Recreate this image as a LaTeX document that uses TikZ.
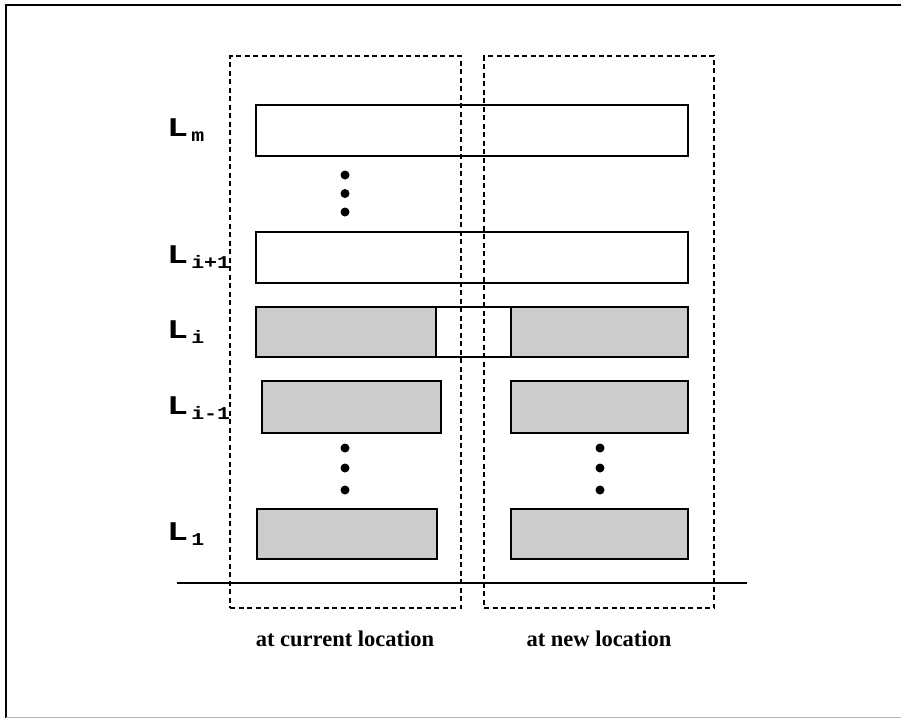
\documentclass[tikz,border=0pt]{standalone}
\usepackage{fontspec}
\setmainfont{Liberation Serif}
\newfontfamily\lmono{Liberation Mono}
\newcommand{\lvl}[1]{\scalebox{1.3}[1]{\fontsize{27}{28}\selectfont L}\hspace{3pt}\raisebox{-5pt}{\scalebox{1.2}[1]{\fontsize{18}{19}\selectfont #1}}}
\begin{document}
\begin{tikzpicture}[x=1pt,y=-1pt,
  barbox/.style={draw=black,line width=1.4pt},
  greyfill/.style={fill=gray!40},
  region/.style={draw=black,line width=1.1pt,dash pattern=on 5pt off 3.5pt},
  lab/.style={font=\lmono\bfseries,anchor=west,inner sep=0pt},
  captxt/.style={font=\bfseries\fontsize{22.5}{24}\selectfont},
  blob/.style={circle,fill=black,inner sep=0pt,minimum size=9pt}]
\useasboundingbox (0,0) rectangle (901,721);
% outer frame
\draw[line width=1.4pt] (901,5) -- (6,5) -- (6,718);
\draw[gray!60,line width=0.8pt] (6,717) -- (901,717);
% dashed regions
\node[region,minimum width=231pt,minimum height=552pt,inner sep=0pt] (cur) at (345.5,332) {};
\node[region,minimum width=230pt,minimum height=552pt,inner sep=0pt] (new) at (599,332) {};
% ground line
\coordinate (g1) at (177,583);
\coordinate (g2) at (747,583);
\draw[line width=2.6pt] (g1) -- (g2);
% L_m
\node[barbox,minimum width=432pt,minimum height=51pt,inner sep=0pt] (bm) at (472,130.5) {};
\node[blob] (d1) at (345,175) {};
\node[blob] (d2) at (345,193.5) {};
\node[blob] (d3) at (345,212) {};
% L_{i+1}
\node[barbox,minimum width=432pt,minimum height=51pt,inner sep=0pt] (bi1) at (472,257.5) {};
% L_i
\path[greyfill] (256,307) rectangle (436,357);
\path[greyfill] (511,307) rectangle (688,357);
\draw[barbox] (256,307) rectangle (688,357);
\draw[line width=1.4pt] (436,307) -- (436,357);
\draw[line width=1.4pt] (511,307) -- (511,357);
% L_{i-1}
\node[barbox,greyfill,minimum width=179pt,minimum height=52pt,inner sep=0pt] (bl2) at (351.5,407) {};
\node[barbox,greyfill,minimum width=177pt,minimum height=52pt,inner sep=0pt] (br2) at (599.5,407) {};
\node[blob] (e1) at (345,448) {};
\node[blob] (e2) at (345,468) {};
\node[blob] (e3) at (345,490) {};
\node[blob] (f1) at (600,448) {};
\node[blob] (f2) at (600,468) {};
\node[blob] (f3) at (600,490) {};
% L_1
\node[barbox,greyfill,minimum width=180pt,minimum height=50pt,inner sep=0pt] (bl1) at (347,534) {};
\node[barbox,greyfill,minimum width=177pt,minimum height=50pt,inner sep=0pt] (br1) at (599.5,534) {};
% labels
\node[lab] (lm) at (167,130) {\lvl{m}};
\node[lab] (li1) at (167,257) {\lvl{i+1}};
\node[lab] (li) at (167,332) {\lvl{i}};
\node[lab] (lim) at (167,408) {\lvl{i-1}};
\node[lab] (l1) at (167,534) {\lvl{1}};
% captions
\node[captxt] (tc) at (345,639) {at current location};
\node[captxt] (tn) at (599,639) {at new location};
\end{tikzpicture}
\end{document}
